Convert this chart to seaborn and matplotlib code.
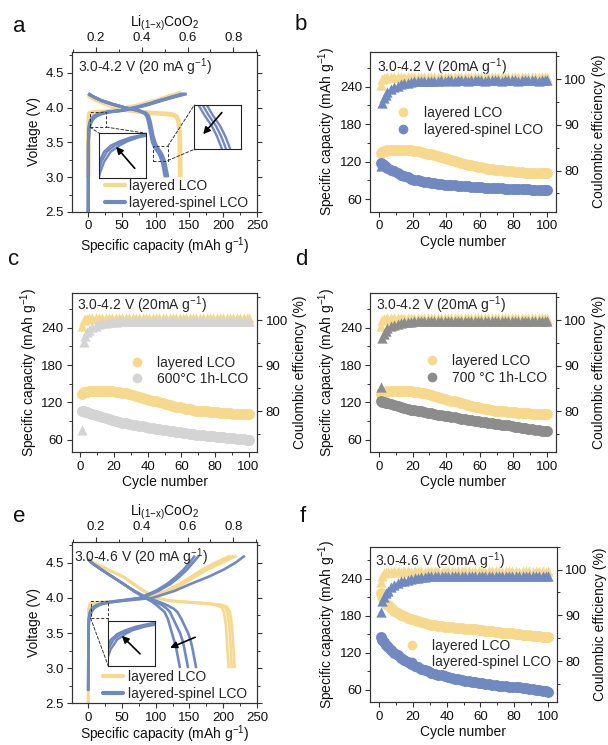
import matplotlib
matplotlib.use("Agg")
import matplotlib.pyplot as plt
import seaborn as sns
from matplotlib.patches import Rectangle, ConnectionPatch
from matplotlib.lines import Line2D
from matplotlib.ticker import MultipleLocator, FixedLocator, FormatStrFormatter

# ---------------- data: cycling (b, c, d, f) ----------------
CYC = [1, 2, 3, 4, 5, 7, 9, 11, 13, 15,
       17, 19, 21, 23, 25, 27, 29, 31, 33, 35,
       37, 39, 41, 43, 45, 47, 49, 51, 53, 55,
       57, 59, 61, 63, 65, 67, 69, 71, 73, 75,
       77, 79, 81, 83, 85, 87, 89, 91, 93, 95,
       97, 99, 100]

ly42_cap = [134, 136, 137, 137.5, 138, 138.5, 139, 139, 139, 139,
            138.5, 138, 137.5, 136.5, 135.5, 134.5, 133, 132, 130.5, 129,
            127.5, 126, 124.5, 123, 121.5, 120, 118.5, 117, 115.5, 114.5,
            113, 112, 111, 110, 109, 108, 107, 106.5, 106, 105.5,
            105, 104.5, 104, 103.5, 103, 102.5, 102.5, 102, 102, 101.5,
            101.5, 101.5, 101.5]
ly42_ce = [98.8, 100.1, 100.3, 100.3, 100.4, 100.4, 100.5, 100.4, 100.5, 100.4,
           100.5, 100.5, 100.4, 100.5, 100.5, 100.4, 100.5, 100.5, 100.5, 100.4,
           100.5, 100.5, 100.4, 100.5, 100.5, 100.5, 100.4, 100.5, 100.5, 100.5,
           100.4, 100.5, 100.5, 100.4, 100.5, 100.5, 100.5, 100.5, 100.4, 100.5,
           100.5, 100.5, 100.4, 100.5, 100.5, 100.5, 100.4, 100.5, 100.5, 100.5,
           100.4, 100.5, 100.4]
ls42_cap = [118, 116, 114, 112, 110.5, 107.5, 104.5, 102, 99.5, 97,
            95, 93, 91.5, 90, 89, 88, 87, 86, 85.5, 84.5,
            84, 83.5, 83, 82.5, 82, 81.5, 81, 80.5, 80.5, 80,
            79.5, 79.5, 79, 78.5, 78.5, 78, 78, 77.5, 77.5, 77,
            77, 76.5, 76.5, 76.5, 76, 76, 76, 75.5, 75.5, 75.5,
            75.5, 75, 75]
ls42_ce = [81, 94.8, 95.8, 96.6, 97.2, 97.9, 98.3, 98.6, 98.9, 99.1,
           99.2, 99.4, 99.5, 99.5, 99.6, 99.6, 99.7, 99.7, 99.7, 99.7,
           99.8, 99.7, 99.8, 99.8, 99.7, 99.8, 99.8, 99.8, 99.7, 99.8,
           99.8, 99.8, 99.8, 99.7, 99.8, 99.8, 99.8, 99.8, 99.7, 99.8,
           99.8, 99.8, 99.8, 99.7, 99.8, 99.8, 99.8, 99.8, 99.8, 99.7,
           99.8, 99.8, 99.8]
g600_cap = [107, 106, 105, 104, 103, 101.5, 100, 98, 96.5, 95,
            93, 91.5, 90, 88.5, 87.5, 86.5, 85.5, 84.5, 83.5, 82.5,
            81.5, 80.5, 79.5, 78.5, 77.5, 77, 76, 75, 74.5, 73.5,
            72.5, 72, 71, 70.5, 69.5, 69, 68.5, 67.5, 67, 66.5,
            66, 65.5, 65, 64.5, 64, 63.5, 63, 62.5, 62, 61.5,
            61, 60.5, 60]
g600_ce = [76, 95.2, 96.5, 97.3, 97.8, 98.4, 98.8, 99.1, 99.3, 99.4,
           99.5, 99.6, 99.6, 99.7, 99.7, 99.7, 99.8, 99.7, 99.8, 99.8,
           99.7, 99.8, 99.8, 99.8, 99.7, 99.8, 99.8, 99.8, 99.8, 99.7,
           99.8, 99.8, 99.8, 99.7, 99.8, 99.8, 99.8, 99.8, 99.8, 99.7,
           99.8, 99.8, 99.8, 99.8, 99.7, 99.8, 99.8, 99.8, 99.8, 99.8,
           99.7, 99.8, 99.8]
g700_cap = [122, 121, 120, 119, 118.5, 117, 115.5, 114, 112.5, 111,
            110, 108.5, 107.5, 106.5, 105.5, 104.5, 103.5, 102.5, 101.5, 100.5,
            99.5, 98.5, 97.5, 97, 96, 95, 94, 93.5, 92.5, 91.5,
            91, 90, 89, 88.5, 87.5, 87, 86, 85, 84.5, 83.5,
            83, 82, 81, 80.5, 79.5, 79, 78, 77, 76.5, 75.5,
            74.5, 74, 73.5]
g700_ce = [85.3, 96.1, 97.0, 97.7, 98.2, 98.7, 99.0, 99.2, 99.4, 99.5,
           99.6, 99.6, 99.7, 99.7, 99.7, 99.8, 99.7, 99.8, 99.8, 99.7,
           99.8, 99.8, 99.8, 99.7, 99.8, 99.8, 99.8, 99.8, 99.7, 99.8,
           99.8, 99.8, 99.8, 99.8, 99.7, 99.8, 99.8, 99.8, 99.8, 99.7,
           99.8, 99.8, 99.8, 99.8, 99.8, 99.7, 99.8, 99.8, 99.8, 99.8,
           99.7, 99.8, 99.8]
ly46_cap = [217, 210, 204, 200, 197, 192.5, 188.5, 185, 182, 179.5,
            177, 175, 173, 171.5, 170, 168.5, 167, 166, 165, 164,
            163.5, 162.5, 162, 161.5, 161, 160.5, 160, 159.5, 159, 158.5,
            158, 157.5, 157, 156, 155.5, 155, 154.5, 154, 153, 152.5,
            152, 151.5, 151, 150, 149.5, 149, 148.5, 148, 147.5, 147,
            146.5, 146, 146]
ly46_ce = [97.2, 98.6, 99.2, 99.4, 99.5, 99.5, 99.6, 99.6, 99.5, 99.6,
           99.6, 99.5, 99.6, 99.6, 99.6, 99.5, 99.6, 99.6, 99.6, 99.6,
           99.5, 99.6, 99.6, 99.6, 99.5, 99.6, 99.6, 99.6, 99.6, 99.5,
           99.6, 99.6, 99.6, 99.5, 99.6, 99.6, 99.6, 99.6, 99.5, 99.6,
           99.6, 99.6, 99.6, 99.5, 99.6, 99.6, 99.6, 99.5, 99.6, 99.6,
           99.6, 99.5, 99.6]
ls46_cap = [146, 141, 137, 133, 130, 125, 120.5, 116, 112.5, 109,
            105.5, 102, 99, 96.5, 94, 92, 90, 88, 86.5, 85,
            83.5, 82, 80.5, 79.5, 78, 77, 76, 75, 74, 73.5,
            72.5, 71.5, 70.5, 70, 69, 68.5, 67.5, 67, 66.5, 66,
            65.5, 65, 64.5, 64, 63, 62.5, 62, 61, 60.5, 59.5,
            58.5, 57.5, 57]
ls46_ce = [90.7, 93.1, 94.0, 94.8, 95.4, 96.2, 96.7, 97.1, 97.4, 97.6,
           97.8, 98.0, 98.1, 98.2, 98.3, 98.4, 98.5, 98.5, 98.6, 98.6,
           98.7, 98.6, 98.7, 98.6, 98.7, 98.7, 98.6, 98.7, 98.6, 98.6,
           98.7, 98.6, 98.6, 98.5, 98.6, 98.6, 98.5, 98.6, 98.6, 98.5,
           98.6, 98.6, 98.5, 98.6, 98.5, 98.6, 98.5, 98.6, 98.5, 98.6,
           98.5, 98.6, 98.5]

# ---------------- data: voltage profiles, panel a (3.0-4.2 V) ----------------
a_ly_chg_v = [3.0, 3.6, 3.85, 3.92, 3.93, 3.94, 3.96, 3.98, 4.0, 4.03, 4.07, 4.11, 4.16, 4.19, 4.21]
a_ly_chg_cap = [0, 0.3, 1, 2, 8, 25, 40, 50, 60, 75, 90, 105, 120, 130, 138]
a_ly_dis_cap = [0, 10, 25, 40, 55, 70, 85, 100, 115, 125, 131, 134, 135.5, 136, 136.5]
a_ly_dis_v = [4.18, 4.12, 4.06, 4.01, 3.97, 3.95, 3.93, 3.92, 3.91, 3.9, 3.87, 3.8, 3.6, 3.3, 3.0]

a_bs_chg_v = [2.5, 3.5, 3.7, 3.75, 3.8, 3.85, 3.88, 3.9, 3.92, 3.94, 3.96, 3.98, 4.0, 4.03, 4.06,
              4.1, 4.15, 4.2]
a_bs_chg_cap1 = [0, 0.3, 1.5, 3, 5, 8.5, 13, 17, 23, 33, 52, 62, 72, 84, 95, 108, 126, 146]
a_bs_chg_cap2 = [0, 0.3, 1, 2, 3.5, 6.5, 10.5, 15, 21, 31, 50, 60, 70, 82, 93, 106, 124, 143]
a_bs_chg_cap3 = [0, 0.3, 0.8, 1.5, 2.5, 5, 8.5, 13, 19, 29, 48, 58, 68, 80, 91, 104, 122, 140]

a_bs_dis_v = [4.2, 4.15, 4.1, 4.05, 4.0, 3.96, 3.92, 3.88, 3.8, 3.7, 3.6, 3.5, 3.45, 3.4, 3.35, 3.3,
              3.25, 3.2, 3.1, 3.0]
a_bs_dis_cap1 = [0, 9, 20, 36, 54, 75, 86, 89.5, 92, 94, 96, 99, 101.5, 104.5, 108, 110.5, 112.5,
                 114, 116, 118]
a_bs_dis_cap2 = [0, 9, 20, 36, 54, 74, 84.5, 88, 90.5, 92.5, 94.5, 97, 99.5, 102.5, 106, 108.5,
                 110.5, 112, 114, 116]
a_bs_dis_cap3 = [0, 9, 20, 36, 54, 73, 83, 86.5, 89, 91, 93, 95, 97.5, 100.5, 104, 106.5, 108.5,
                 110, 112, 114]

# ---------------- data: voltage profiles, panel e (3.0-4.6 V) ----------------
e_ly_chg_v = [2.5, 3.6, 3.85, 3.92, 3.94, 3.96, 3.98, 4.0, 4.05, 4.1, 4.2, 4.3, 4.4, 4.5, 4.55, 4.6]
e_ly_chg_cap1 = [0, 0.3, 1, 3, 20, 55, 75, 88, 106, 121, 141, 158, 176, 198, 209, 220]
e_ly_chg_cap2 = [0, 0.3, 1, 3, 18, 52, 72, 85, 103, 118, 138, 155, 172, 193, 204, 215]
e_ly_chg_cap3 = [0, 0.3, 1, 3, 16, 50, 70, 83, 100, 115, 135, 152, 168, 188, 199, 210]

e_ly_dis_v = [4.55, 4.5, 4.4, 4.3, 4.2, 4.1, 4.0, 3.96, 3.94, 3.92, 3.9, 3.87, 3.8, 3.6, 3.3, 3.0]
e_ly_dis_cap1 = [0, 8, 30, 52, 67, 82, 102, 122, 150, 180, 198, 206, 210, 213, 215, 217]
e_ly_dis_cap2 = [0, 8, 30, 52, 67, 82, 101, 120, 147, 176, 194, 202, 206, 209, 211, 212.5]
e_ly_dis_cap3 = [0, 8, 30, 52, 67, 82, 100, 118, 144, 172, 189, 197, 201, 204, 206, 208]

e_bs_chg_v = [2.68, 3.5, 3.7, 3.75, 3.8, 3.85, 3.88, 3.9, 3.92, 3.94, 3.96, 4.0, 4.1, 4.2, 4.3,
              4.4, 4.5, 4.6]
e_bs_chg_cap1 = [0, 0.3, 1.5, 3, 5, 8.5, 13, 17, 24, 36, 52, 95, 128, 152, 178, 200, 218, 232]
e_bs_chg_cap2 = [0, 0.3, 1, 2, 3.5, 6.5, 10.5, 15, 21, 32, 48, 80, 104, 122, 135, 146, 155, 164]
e_bs_chg_cap3 = [0, 0.3, 0.8, 1.5, 2.5, 5, 8.5, 13, 19, 29, 45, 76, 100, 117, 130, 141, 150, 158]

e_bs_dis_v = [4.55, 4.5, 4.4, 4.3, 4.2, 4.1, 4.0, 3.95, 3.9, 3.85, 3.8, 3.7, 3.6, 3.5, 3.4, 3.3,
              3.2, 3.1, 3.0]
e_bs_dis_cap1 = [0, 5, 20, 36, 52, 68, 88, 103, 116, 126, 132, 138, 143, 148, 151.5, 154, 156,
                 158, 160]
e_bs_dis_cap2 = [0, 5, 20, 36, 52, 68, 86, 98, 109, 116, 121, 126, 131, 136, 139.5, 142, 144, 146,
                 148]
e_bs_dis_cap3 = [0, 5, 20, 36, 52, 67, 84, 94, 101, 107, 113, 118, 121, 124, 127, 130, 132, 134,
                 136]

# ---------------- labels ----------------
LAB_LY = "layered LCO"
LAB_LS = "layered-spinel LCO"
LAB_600 = "600\u00b0C 1h-LCO"
LAB_700 = "700 \u00b0C 1h-LCO"
TOP_TICKS = [0.2, 0.4, 0.6, 0.8]

# ---------------- style ----------------
sns.set_theme(style="ticks")
plt.rcParams["font.family"] = ["Liberation Sans", "DejaVu Sans"]
plt.rcParams.update({
    "mathtext.default": "regular",
    "axes.linewidth": 0.8,
    "axes.edgecolor": "#333333",
    "xtick.color": "#333333", "ytick.color": "#333333",
    "xtick.labelcolor": "#111111", "ytick.labelcolor": "#111111",
    "xtick.major.size": 3.5, "ytick.major.size": 3.5,
    "xtick.minor.size": 2.0, "ytick.minor.size": 2.0,
    "xtick.major.width": 0.8, "ytick.major.width": 0.8,
    "xtick.minor.width": 0.7, "ytick.minor.width": 0.7,
    "xtick.labelsize": 9.5, "ytick.labelsize": 9.5,
    "xtick.major.pad": 2.5, "ytick.major.pad": 2.5,
    "axes.labelsize": 10, "axes.labelcolor": "#111111",
})

YEL = "#F7D98E"
BLU = "#7189C1"
LGR = "#D4D4D4"
DGR = "#8C8C8C"

W, H = 608, 745
fig = plt.figure(figsize=(W / 100, H / 100), dpi=100)


def rect(l, t, r, b):
    return [l / W, 1 - b / H, (r - l) / W, (b - t) / H]


def line(ax, x, y, col, lw):
    sns.lineplot(x=x, y=y, ax=ax, color=col, lw=lw, sort=False, estimator=None,
                 legend=False, solid_capstyle="butt")


def voltage_axes(box, text, text_xy):
    ax = fig.add_axes(rect(*box))
    ax.set_xlim(-24, 250)
    ax.set_ylim(2.5, 4.8)
    ax.xaxis.set_major_locator(MultipleLocator(50))
    ax.xaxis.set_minor_locator(MultipleLocator(25))
    ax.yaxis.set_major_locator(FixedLocator([2.5, 3.0, 3.5, 4.0, 4.5]))
    ax.yaxis.set_minor_locator(FixedLocator([2.75, 3.25, 3.75, 4.25, 4.75]))
    ax.yaxis.set_major_formatter(FormatStrFormatter("%.1f"))
    ax.tick_params(which="both", direction="out", right=True, top=False)
    top = ax.twiny()
    top.set_xlim(0.0957, 0.903)
    top.xaxis.set_major_locator(FixedLocator(TOP_TICKS))
    top.xaxis.set_minor_locator(FixedLocator([0.1, 0.3, 0.5, 0.7, 0.9]))
    top.xaxis.set_major_formatter(FormatStrFormatter("%.1f"))
    top.tick_params(which="both", direction="out")
    top.set_xlabel("Li$_{(1{-}x)}$CoO$_2$", labelpad=4)
    ax.text(text_xy[0], text_xy[1], text, transform=ax.transAxes, ha="left", va="center",
            fontsize=10, zorder=6)
    return ax


def finish_voltage(ax, leg_xy, xpad=2):
    ax.set_xlabel("Specific capacity (mAh g$^{-1}$)", labelpad=xpad)
    ax.set_ylabel("Voltage (V)", labelpad=3)
    handles = [Line2D([], [], color=YEL, lw=3), Line2D([], [], color=BLU, lw=3)]
    ax.legend(handles, [LAB_LY, LAB_LS], loc="center left", bbox_to_anchor=leg_xy, frameon=False,
              borderpad=0, borderaxespad=0, handlelength=1.45, handletextpad=0.3,
              labelspacing=0.2, fontsize=10)


def inset(ax, box, xlim, ylim, curves, arrow, links):
    ins = fig.add_axes(rect(*box))
    for x, y in curves:
        line(ins, x, y, BLU, 1.7)
    ins.set_xlim(*xlim)
    ins.set_ylim(*ylim)
    ins.set_xticks([])
    ins.set_yticks([])
    ins.set_xlabel("")
    ins.set_ylabel("")
    for s in ins.spines.values():
        s.set_linewidth(0.8)
        s.set_color("#222222")
    ins.annotate("", xy=arrow[1], xytext=arrow[0], xycoords="axes fraction",
                 arrowprops=dict(arrowstyle="-|>", color="black", lw=1.2, mutation_scale=10,
                                 shrinkA=0, shrinkB=0))
    ax.add_patch(Rectangle((xlim[0], ylim[0]), xlim[1] - xlim[0], ylim[1] - ylim[0], fill=False,
                           ls=(0, (3, 2)), lw=0.7, ec="#333333", zorder=5))
    for pa, pb in links:
        con = ConnectionPatch(xyA=pa, coordsA=ax.transData, xyB=pb, coordsB=ins.transAxes,
                              ls=(0, (3, 2)), lw=0.7, color="#333333")
        fig.add_artist(con)
    return ins


def cycle_panel(box, caps, ces, labels, text, text_xy, leg_xy, ylim_cap=(40, 296),
                ylim_ce=(71, 106)):
    ax = fig.add_axes(rect(*box))
    ax2 = ax.twinx()
    for vals, col in caps:
        sns.scatterplot(x=CYC, y=vals, ax=ax, color=col, marker="o", s=62, linewidth=0,
                        legend=False, zorder=3)
    for vals, col in ces:
        sns.scatterplot(x=CYC, y=vals, ax=ax2, color=col, marker="^", s=55, linewidth=0,
                        legend=False, zorder=3)
    ax.set_xlim(-5.2, 105.2)
    ax.set_ylim(*ylim_cap)
    ax.xaxis.set_major_locator(MultipleLocator(20))
    ax.xaxis.set_minor_locator(MultipleLocator(10))
    ax.yaxis.set_major_locator(FixedLocator([60, 120, 180, 240]))
    ax.yaxis.set_minor_locator(FixedLocator([90, 150, 210, 270]))
    ax2.set_ylim(*ylim_ce)
    ax2.yaxis.set_major_locator(FixedLocator([80, 90, 100]))
    ax2.yaxis.set_minor_locator(FixedLocator([75, 85, 95, 105]))
    ax.tick_params(which="both", direction="out", right=False, top=False)
    ax2.tick_params(which="both", direction="out")
    ax.set_xlabel("Cycle number", labelpad=2)
    ax.set_ylabel("Specific capacity (mAh g$^{-1}$)", labelpad=1)
    ax2.set_ylabel("Coulombic efficiency (%)", labelpad=4)
    handles = [Line2D([], [], ls="", marker="o", ms=7, mfc=c, mec="none") for _, c in caps]
    ax.legend(handles, labels, loc="center left", bbox_to_anchor=leg_xy, frameon=False,
              borderpad=0, borderaxespad=0, handlelength=1.0, handletextpad=1.0,
              labelspacing=0.2, fontsize=10)
    ax.text(text_xy[0], text_xy[1], text, transform=ax.transAxes, ha="left", va="center",
            fontsize=10, zorder=6)
    return ax, ax2


# ---------------- panel a ----------------
axa = voltage_axes((72, 52, 257, 212), "3.0-4.2 V (20 mA g$^{-1}$)", (0.034, 0.908))
line(axa, a_ly_chg_cap, a_ly_chg_v, YEL, 3.4)
line(axa, a_ly_dis_cap, a_ly_dis_v, YEL, 3.4)
for c in (a_bs_chg_cap1, a_bs_chg_cap2, a_bs_chg_cap3):
    line(axa, c, a_bs_chg_v, BLU, 2.2)
for c in (a_bs_dis_cap1, a_bs_dis_cap2, a_bs_dis_cap3):
    line(axa, c, a_bs_dis_v, BLU, 2.2)
finish_voltage(axa, (0.178, 0.111))
inset(axa, (99.3, 133.3, 146, 178.3), (2.5, 27), (3.72, 3.94),
      [(a_bs_chg_cap1, a_bs_chg_v), (a_bs_chg_cap2, a_bs_chg_v), (a_bs_chg_cap3, a_bs_chg_v)],
      ((0.76, 0.22), (0.36, 0.70)),
      [((2.5, 3.72), (0, 1)), ((27, 3.72), (1, 1))])
inset(axa, (194.3, 105, 241, 149.3), (95.5, 118), (3.24, 3.45),
      [(a_bs_dis_cap1, a_bs_dis_v), (a_bs_dis_cap2, a_bs_dis_v), (a_bs_dis_cap3, a_bs_dis_v)],
      ((0.59, 0.83), (0.19, 0.34)),
      [((118, 3.45), (0, 1)), ((118, 3.24), (0, 0))])

# ---------------- panel e ----------------
axe = voltage_axes((72, 541.7, 257, 703.3), "3.0-4.6 V (20 mA g$^{-1}$)", (0.011, 0.907))
for c in (e_ly_chg_cap1, e_ly_chg_cap2, e_ly_chg_cap3):
    line(axe, c, e_ly_chg_v, YEL, 1.9)
for c in (e_ly_dis_cap1, e_ly_dis_cap2, e_ly_dis_cap3):
    line(axe, c, e_ly_dis_v, YEL, 1.9)
for c in (e_bs_chg_cap1, e_bs_chg_cap2, e_bs_chg_cap3):
    line(axe, c, e_bs_chg_v, BLU, 1.9)
for c in (e_bs_dis_cap1, e_bs_dis_cap2, e_bs_dis_cap3):
    line(axe, c, e_bs_dis_v, BLU, 1.9)
axe.annotate("", xy=(121.3, 3.29), xytext=(158.4, 3.44), xycoords="data",
             arrowprops=dict(arrowstyle="-|>", color="black", lw=1.2, mutation_scale=10,
                             shrinkA=0, shrinkB=0))
finish_voltage(axe, (0.169, 0.112), xpad=0)
inset(axe, (108.3, 621, 155, 666), (3.6, 29.7), (3.71, 3.95),
      [(e_bs_chg_cap1, e_bs_chg_v), (e_bs_chg_cap2, e_bs_chg_v), (e_bs_chg_cap3, e_bs_chg_v)],
      ((0.68, 0.27), (0.29, 0.67)),
      [((3.6, 3.71), (0, 0)), ((29.7, 3.71), (0, 1))])

# ---------------- panels b, c, d, f ----------------
cycle_panel((370.3, 51.7, 555.7, 211.7), [(ly42_cap, YEL), (ls42_cap, BLU)],
            [(ly42_ce, YEL), (ls42_ce, BLU)], [LAB_LY, LAB_LS],
            "3.0-4.2 V (20mA g$^{-1}$)", (0.035, 0.906), (0.139, 0.5625))
cycle_panel((71.7, 292.7, 257.3, 452.3), [(ly42_cap, YEL), (g600_cap, LGR)],
            [(ly42_ce, YEL), (g600_ce, LGR)], [LAB_LY, LAB_600],
            "3.0-4.2 V (20mA g$^{-1}$)", (0.03, 0.923), (0.312, 0.51))
cycle_panel((370.3, 292.7, 555.7, 452.3), [(ly42_cap, YEL), (g700_cap, DGR)],
            [(ly42_ce, YEL), (g700_ce, DGR)], [LAB_LY, LAB_700],
            "3.0-4.2 V (20mA g$^{-1}$)", (0.031, 0.923), (0.293, 0.521))
cycle_panel((370.3, 546.7, 556.7, 702.3), [(ly46_cap, YEL), (ls46_cap, BLU)],
            [(ly46_ce, YEL), (ls46_ce, BLU)], [LAB_LY, LAB_LS],
            "3.0-4.6 V (20mA g$^{-1}$)", (0.025, 0.904), (0.184, 0.31),
            ylim_cap=(40, 292), ylim_ce=(71, 105))

# ---------------- panel letters ----------------
for letter, x, y in [("a", 19, 31.7), ("b", 301, 30), ("c", 14, 265), ("d", 301, 265),
                     ("e", 19, 521.7), ("f", 303, 521.7)]:
    fig.text(x / W, 1 - y / H, letter, fontsize=16, ha="center", va="baseline", color="#111111")

fig.savefig("out.png", dpi=100)
